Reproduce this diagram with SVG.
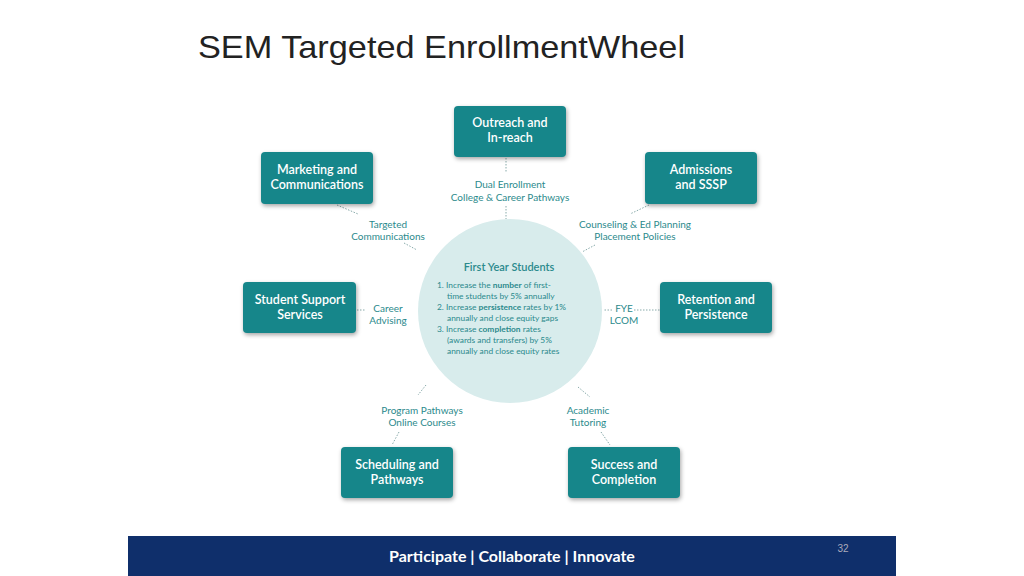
<svg xmlns="http://www.w3.org/2000/svg" width="1024" height="576" viewBox="0 0 1024 576">
<style>
.box{fill:#16868a;filter:drop-shadow(1px 2px 2px rgba(0,0,0,0.35))}
.bt{font-family:Lato,"Open Sans",sans-serif;font-size:12.5px;fill:#fff;text-anchor:middle;font-weight:600}
.lb{font-family:Lato,"Open Sans",sans-serif;font-size:10px;fill:#2b8a8c;text-anchor:middle}
.ct{font-family:Lato,"Open Sans",sans-serif;font-size:8.4px;fill:#2b8a8c}
.ln{stroke:#8aa;stroke-width:1;stroke-dasharray:1.5 1.5;fill:none}
</style>
<rect width="1024" height="576" fill="#fff"/>
<text x="198" y="58" font-family="Liberation Sans,sans-serif" font-size="32" fill="#222" textLength="487" lengthAdjust="spacingAndGlyphs">SEM Targeted EnrollmentWheel</text>
<g id="hub">
<circle cx="510" cy="311" r="92" fill="#d8ecec"/>
<text x="509" y="271" class="ct" style="font-size:11px;text-anchor:middle;font-weight:600">First Year Students</text>
<text class="ct"><tspan x="437" y="288">1. Increase the <tspan font-weight="bold">number</tspan> of first-</tspan><tspan x="447" y="299">time students by 5% annually</tspan><tspan x="437" y="310">2. Increase <tspan font-weight="bold">persistence</tspan> rates by 1%</tspan><tspan x="447" y="321">annually and close equity gaps</tspan><tspan x="437" y="332">3. Increase <tspan font-weight="bold">completion</tspan> rates</tspan><tspan x="447" y="343">(awards and transfers) by 5%</tspan><tspan x="447" y="354">annually and close equity rates</tspan></text>
</g>
<g id="connectors">
<path class="ln" d="M506 158V173M506 206V219M337 205L358 214M404 243L417 250M649 205L630 214M595 245L582 252M357 310H366M612 310H604M634 310H660M426 385L418 395M578 387L590 397M399 432L392 445M601 432L610 445"/>
</g>
<g id="labels">
<text class="lb" x="510" y="188">Dual Enrollment</text><text class="lb" x="510" y="201">College &amp; Career Pathways</text>
<text class="lb" x="388" y="228">Targeted</text><text class="lb" x="388" y="240">Communications</text>
<text class="lb" x="635" y="228">Counseling &amp; Ed Planning</text><text class="lb" x="635" y="240">Placement Policies</text>
<text class="lb" x="388" y="312">Career</text><text class="lb" x="388" y="324">Advising</text>
<text class="lb" x="624" y="312">FYE</text><text class="lb" x="624" y="324">LCOM</text>
<text class="lb" x="422" y="414">Program Pathways</text><text class="lb" x="422" y="426">Online Courses</text>
<text class="lb" x="588" y="414">Academic</text><text class="lb" x="588" y="426">Tutoring</text>
</g>
<g id="outreach"><rect class="box" x="454" y="106" width="112" height="51" rx="4"/><text class="bt" x="510" y="127">Outreach and</text><text class="bt" x="510" y="142">In-reach</text></g>
<g id="marketing"><rect class="box" x="261" y="152" width="112" height="52" rx="4"/><text class="bt" x="317" y="174">Marketing and</text><text class="bt" x="317" y="189">Communications</text></g>
<g id="admissions"><rect class="box" x="645" y="152" width="112" height="52" rx="4"/><text class="bt" x="701" y="174">Admissions</text><text class="bt" x="701" y="189">and SSSP</text></g>
<g id="support"><rect class="box" x="243" y="282" width="113" height="51" rx="4"/><text class="bt" x="300" y="304">Student Support</text><text class="bt" x="300" y="319">Services</text></g>
<g id="retention"><rect class="box" x="660" y="282" width="112" height="51" rx="4"/><text class="bt" x="716" y="304">Retention and</text><text class="bt" x="716" y="319">Persistence</text></g>
<g id="scheduling"><rect class="box" x="341" y="447" width="112" height="51" rx="4"/><text class="bt" x="397" y="469">Scheduling and</text><text class="bt" x="397" y="484">Pathways</text></g>
<g id="success"><rect class="box" x="568" y="447" width="112" height="51" rx="4"/><text class="bt" x="624" y="469">Success and</text><text class="bt" x="624" y="484">Completion</text></g>
<g id="footer">
<rect x="128" y="536" width="768" height="40" fill="#0f2f6b"/>
<text x="512" y="562" font-family="Lato,sans-serif" font-size="16" font-weight="bold" fill="#fff" text-anchor="middle">Participate | Collaborate | Innovate</text>
<text x="843" y="552" font-family="Liberation Sans,sans-serif" font-size="10" fill="#aab" text-anchor="middle">32</text>
</g>
</svg>
